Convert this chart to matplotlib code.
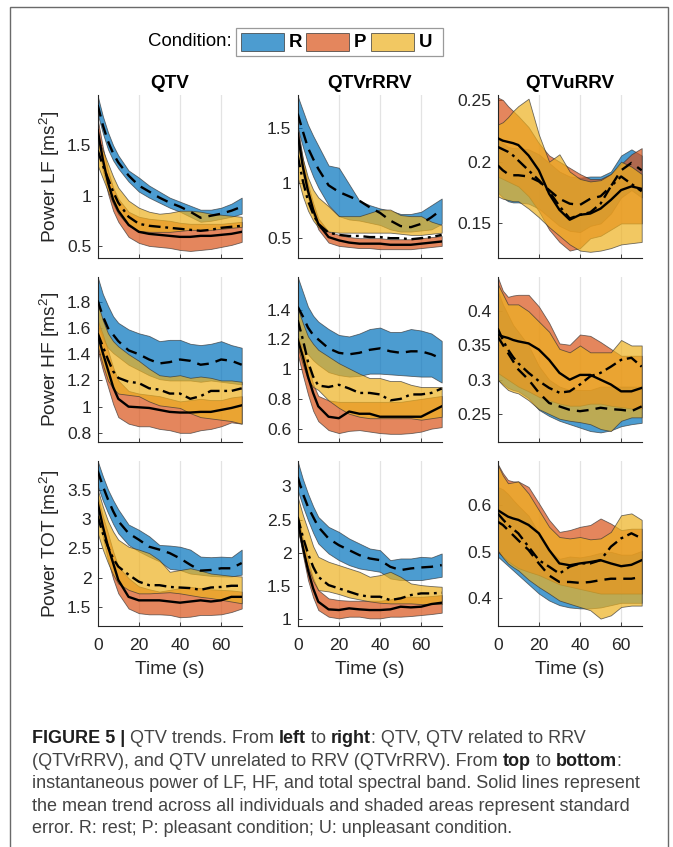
import matplotlib
matplotlib.use('Agg')
import matplotlib.pyplot as plt
from matplotlib.patches import Rectangle
from matplotlib import font_manager
from matplotlib.ticker import FuncFormatter

# ---------------- data ----------------
t = [0, 2.5, 5, 7.5, 10, 15, 20, 25, 30, 35, 40, 45, 50, 55, 60, 65, 70]
conditions = ['R', 'P', 'U']
column_titles = ['QTV', 'QTVrRRV', 'QTVuRRV']
row_labels = ['Power LF [ms$^2$]', 'Power HF [ms$^2$]', 'Power TOT [ms$^2$]']
x_ticks = [0, 20, 40, 60]

# Row 1: LF
lf_qtv_mean = {
    'R': [1.90, 1.70, 1.54, 1.42, 1.33, 1.20, 1.10, 1.04, 0.98, 0.93, 0.89, 0.84, 0.78, 0.80, 0.82, 0.85, 0.89],
    'P': [1.65, 1.36, 1.13, 0.96, 0.85, 0.71, 0.64, 0.62, 0.61, 0.60, 0.59, 0.59, 0.60, 0.60, 0.61, 0.62, 0.64],
    'U': [1.45, 1.30, 1.17, 1.04, 0.93, 0.79, 0.72, 0.70, 0.69, 0.68, 0.67, 0.66, 0.65, 0.66, 0.68, 0.69, 0.70]}
lf_qtv_lo = {
    'R': [1.81, 1.62, 1.46, 1.35, 1.27, 1.14, 1.04, 0.98, 0.93, 0.88, 0.84, 0.79, 0.74, 0.75, 0.77, 0.79, 0.82],
    'P': [1.55, 1.25, 1.02, 0.85, 0.74, 0.59, 0.53, 0.50, 0.49, 0.48, 0.46, 0.45, 0.46, 0.47, 0.49, 0.51, 0.54],
    'U': [1.30, 1.17, 1.04, 0.92, 0.82, 0.70, 0.65, 0.64, 0.64, 0.64, 0.65, 0.66, 0.66, 0.66, 0.67, 0.68, 0.69]}
lf_qtv_hi = {
    'R': [1.99, 1.79, 1.63, 1.50, 1.40, 1.25, 1.18, 1.10, 1.04, 0.98, 0.94, 0.90, 0.86, 0.86, 0.88, 0.92, 0.98],
    'P': [1.76, 1.48, 1.25, 1.08, 0.97, 0.84, 0.79, 0.77, 0.76, 0.75, 0.73, 0.72, 0.72, 0.72, 0.72, 0.73, 0.74],
    'U': [1.58, 1.45, 1.32, 1.19, 1.08, 0.95, 0.88, 0.84, 0.82, 0.83, 0.85, 0.85, 0.84, 0.82, 0.81, 0.80, 0.79]}

lf_qtvr_mean = {
    'R': [1.63, 1.47, 1.32, 1.22, 1.13, 0.98, 0.92, 0.88, 0.84, 0.78, 0.73, 0.66, 0.61, 0.60, 0.63, 0.69, 0.76],
    'P': [1.45, 1.15, 0.93, 0.76, 0.63, 0.51, 0.48, 0.46, 0.45, 0.45, 0.45, 0.44, 0.44, 0.44, 0.45, 0.46, 0.47],
    'U': [1.25, 1.02, 0.84, 0.72, 0.63, 0.55, 0.53, 0.52, 0.52, 0.51, 0.51, 0.50, 0.50, 0.49, 0.50, 0.51, 0.53]}
lf_qtvr_lo = {
    'R': [1.50, 1.33, 1.18, 1.06, 0.96, 0.80, 0.70, 0.67, 0.66, 0.64, 0.62, 0.58, 0.56, 0.56, 0.57, 0.58, 0.63],
    'P': [1.38, 1.08, 0.87, 0.71, 0.58, 0.46, 0.43, 0.42, 0.41, 0.41, 0.40, 0.40, 0.40, 0.40, 0.41, 0.42, 0.43],
    'U': [1.05, 0.88, 0.75, 0.66, 0.60, 0.56, 0.55, 0.55, 0.55, 0.55, 0.55, 0.55, 0.54, 0.53, 0.53, 0.54, 0.55]}
lf_qtvr_hi = {
    'R': [1.79, 1.66, 1.53, 1.43, 1.34, 1.16, 1.14, 0.99, 0.84, 0.80, 0.77, 0.75, 0.72, 0.72, 0.74, 0.80, 0.86],
    'P': [1.52, 1.22, 0.99, 0.82, 0.68, 0.56, 0.53, 0.51, 0.50, 0.50, 0.50, 0.49, 0.49, 0.49, 0.50, 0.51, 0.52],
    'U': [1.45, 1.22, 1.05, 0.94, 0.87, 0.79, 0.70, 0.70, 0.70, 0.73, 0.76, 0.76, 0.71, 0.70, 0.70, 0.65, 0.62]}

lf_qtvu_mean = {
    'R': [0.197, 0.193, 0.190, 0.189, 0.189, 0.188, 0.184, 0.177, 0.170, 0.166, 0.165, 0.170, 0.172, 0.180, 0.193, 0.199, 0.193],
    'P': [0.219, 0.217, 0.216, 0.215, 0.2135, 0.205, 0.193, 0.174, 0.161, 0.153, 0.157, 0.158, 0.162, 0.169, 0.177, 0.180, 0.178],
    'U': [0.212, 0.210, 0.208, 0.205, 0.201, 0.193, 0.185, 0.176, 0.164, 0.154, 0.157, 0.159, 0.166, 0.180, 0.188, 0.182, 0.176]}
lf_qtvu_lo = {
    'R': [0.175, 0.171, 0.168, 0.167, 0.167, 0.166, 0.162, 0.155, 0.148, 0.144, 0.143, 0.148, 0.150, 0.158, 0.171, 0.177, 0.171],
    'P': [0.188, 0.186, 0.184, 0.182, 0.180, 0.172, 0.160, 0.145, 0.135, 0.128, 0.130, 0.138, 0.140, 0.145, 0.150, 0.150, 0.150],
    'U': [0.172, 0.170, 0.169, 0.168, 0.168, 0.162, 0.155, 0.147, 0.140, 0.133, 0.128, 0.127, 0.128, 0.130, 0.133, 0.134, 0.135]}
lf_qtvu_hi = {
    'R': [0.219, 0.215, 0.212, 0.211, 0.211, 0.210, 0.206, 0.199, 0.192, 0.188, 0.187, 0.188, 0.188, 0.192, 0.205, 0.210, 0.205],
    'P': [0.252, 0.250, 0.245, 0.241, 0.237, 0.228, 0.215, 0.205, 0.200, 0.195, 0.190, 0.186, 0.186, 0.190, 0.198, 0.206, 0.211],
    'U': [0.230, 0.232, 0.236, 0.241, 0.245, 0.251, 0.222, 0.200, 0.206, 0.192, 0.186, 0.184, 0.185, 0.190, 0.200, 0.196, 0.190]}

# Row 2: HF
hf_qtv_mean = {
    'R': [1.81, 1.69, 1.60, 1.55, 1.50, 1.43, 1.40, 1.36, 1.33, 1.34, 1.36, 1.35, 1.32, 1.33, 1.36, 1.35, 1.32],
    'P': [1.55, 1.41, 1.28, 1.15, 1.06, 1.00, 0.995, 0.99, 0.975, 0.96, 0.955, 0.955, 0.96, 0.96, 0.975, 0.99, 1.01],
    'U': [1.56, 1.46, 1.36, 1.27, 1.22, 1.19, 1.18, 1.14, 1.13, 1.10, 1.10, 1.06, 1.08, 1.12, 1.12, 1.12, 1.14]}
hf_qtv_lo = {
    'R': [1.62, 1.52, 1.45, 1.41, 1.38, 1.32, 1.28, 1.24, 1.21, 1.20, 1.20, 1.20, 1.19, 1.20, 1.19, 1.18, 1.17],
    'P': [1.43, 1.28, 1.15, 1.02, 0.92, 0.87, 0.85, 0.85, 0.83, 0.82, 0.80, 0.80, 0.82, 0.83, 0.85, 0.88, 0.87],
    'U': [1.46, 1.32, 1.20, 1.14, 1.10, 1.09, 1.08, 1.04, 1.01, 1.00, 0.99, 0.95, 0.92, 0.91, 0.90, 0.89, 0.87]}
hf_qtv_hi = {
    'R': [1.99, 1.86, 1.77, 1.69, 1.64, 1.59, 1.56, 1.54, 1.50, 1.51, 1.51, 1.48, 1.47, 1.48, 1.50, 1.47, 1.45],
    'P': [1.66, 1.55, 1.43, 1.30, 1.20, 1.12, 1.10, 1.09, 1.08, 1.06, 1.04, 1.05, 1.06, 1.05, 1.05, 1.07, 1.08],
    'U': [1.79, 1.66, 1.56, 1.50, 1.46, 1.40, 1.35, 1.29, 1.24, 1.23, 1.24, 1.22, 1.23, 1.22, 1.20, 1.20, 1.19]}

hf_qtvr_mean = {
    'R': [1.42, 1.355, 1.28, 1.23, 1.20, 1.14, 1.11, 1.10, 1.11, 1.13, 1.14, 1.12, 1.11, 1.12, 1.12, 1.10, 1.07],
    'P': [1.20, 1.085, 0.95, 0.84, 0.75, 0.68, 0.67, 0.715, 0.70, 0.70, 0.68, 0.68, 0.68, 0.68, 0.68, 0.715, 0.75],
    'U': [1.33, 1.20, 1.05, 0.95, 0.89, 0.88, 0.895, 0.87, 0.84, 0.84, 0.83, 0.79, 0.80, 0.83, 0.83, 0.84, 0.87]}
hf_qtvr_lo = {
    'R': [1.20, 1.14, 1.10, 1.06, 1.03, 0.98, 0.96, 0.95, 0.955, 0.97, 0.97, 0.965, 0.96, 0.955, 0.95, 0.95, 0.91],
    'P': [1.10, 0.96, 0.83, 0.72, 0.65, 0.59, 0.57, 0.585, 0.59, 0.58, 0.57, 0.565, 0.565, 0.57, 0.58, 0.60, 0.61],
    'U': [1.15, 1.03, 0.93, 0.88, 0.86, 0.79, 0.74, 0.70, 0.68, 0.67, 0.67, 0.67, 0.67, 0.67, 0.66, 0.67, 0.68]}
hf_qtvr_hi = {
    'R': [1.62, 1.52, 1.42, 1.36, 1.32, 1.27, 1.23, 1.22, 1.24, 1.27, 1.28, 1.25, 1.25, 1.27, 1.26, 1.24, 1.19],
    'P': [1.22, 1.12, 1.02, 0.90, 0.82, 0.79, 0.78, 0.78, 0.78, 0.78, 0.78, 0.78, 0.78, 0.79, 0.80, 0.81, 0.82],
    'U': [1.41, 1.31, 1.22, 1.17, 1.13, 1.085, 1.04, 1.005, 0.97, 0.94, 0.94, 0.92, 0.92, 0.895, 0.88, 0.88, 0.88]}

hf_qtvu_mean = {
    'R': [0.363, 0.351, 0.339, 0.327, 0.315, 0.300, 0.281, 0.266, 0.261, 0.256, 0.254, 0.256, 0.259, 0.257, 0.256, 0.254, 0.261],
    'P': [0.366, 0.363, 0.361, 0.358, 0.356, 0.353, 0.344, 0.329, 0.310, 0.300, 0.307, 0.307, 0.300, 0.293, 0.283, 0.283, 0.288],
    'U': [0.375, 0.358, 0.344, 0.333, 0.324, 0.310, 0.298, 0.288, 0.281, 0.283, 0.293, 0.305, 0.310, 0.319, 0.329, 0.332, 0.319]}
hf_qtvu_lo = {
    'R': [0.300, 0.294, 0.288, 0.285, 0.283, 0.273, 0.256, 0.247, 0.240, 0.235, 0.230, 0.225, 0.223, 0.226, 0.232, 0.235, 0.237],
    'P': [0.310, 0.305, 0.300, 0.295, 0.290, 0.283, 0.275, 0.270, 0.265, 0.262, 0.262, 0.265, 0.265, 0.262, 0.260, 0.258, 0.258],
    'U': [0.300, 0.292, 0.285, 0.282, 0.280, 0.270, 0.257, 0.250, 0.243, 0.240, 0.238, 0.235, 0.228, 0.225, 0.240, 0.245, 0.245]}
hf_qtvu_hi = {
    'R': [0.430, 0.410, 0.395, 0.380, 0.370, 0.350, 0.320, 0.300, 0.290, 0.285, 0.285, 0.285, 0.290, 0.290, 0.290, 0.290, 0.290],
    'P': [0.450, 0.430, 0.421, 0.423, 0.424, 0.424, 0.407, 0.383, 0.353, 0.351, 0.366, 0.364, 0.355, 0.345, 0.335, 0.335, 0.335],
    'U': [0.440, 0.425, 0.410, 0.410, 0.410, 0.400, 0.385, 0.370, 0.345, 0.340, 0.350, 0.340, 0.340, 0.340, 0.358, 0.350, 0.350]}

# Row 3: TOT
tot_qtv_mean = {
    'R': [3.83, 3.57, 3.34, 3.14, 2.97, 2.76, 2.65, 2.53, 2.48, 2.42, 2.33, 2.22, 2.12, 2.13, 2.16, 2.16, 2.25],
    'P': [3.28, 2.88, 2.53, 2.25, 1.96, 1.67, 1.61, 1.61, 1.61, 1.59, 1.57, 1.59, 1.61, 1.59, 1.61, 1.67, 1.67],
    'U': [3.05, 2.76, 2.53, 2.33, 2.19, 2.05, 1.93, 1.87, 1.87, 1.84, 1.83, 1.82, 1.79, 1.83, 1.84, 1.86, 1.86]}
tot_qtv_lo = {
    'R': [3.57, 3.32, 3.11, 2.92, 2.76, 2.56, 2.45, 2.36, 2.28, 2.15, 2.13, 2.07, 2.05, 2.03, 2.02, 2.02, 2.05],
    'P': [3.17, 2.70, 2.30, 1.98, 1.73, 1.47, 1.39, 1.37, 1.37, 1.36, 1.32, 1.33, 1.36, 1.36, 1.37, 1.41, 1.47],
    'U': [2.76, 2.48, 2.25, 2.05, 1.90, 1.79, 1.73, 1.73, 1.74, 1.75, 1.73, 1.70, 1.67, 1.65, 1.62, 1.59, 1.56]}
tot_qtv_hi = {
    'R': [4.00, 3.74, 3.51, 3.33, 3.17, 2.91, 2.82, 2.71, 2.56, 2.55, 2.53, 2.48, 2.36, 2.35, 2.36, 2.35, 2.48],
    'P': [3.40, 3.05, 2.76, 2.45, 2.19, 1.99, 1.85, 1.80, 1.76, 1.79, 1.82, 1.84, 1.82, 1.80, 1.79, 1.78, 1.76],
    'U': [3.51, 3.22, 2.97, 2.79, 2.65, 2.53, 2.48, 2.42, 2.30, 2.10, 2.13, 2.16, 2.12, 2.07, 2.05, 2.03, 2.02]}

tot_qtvr_mean = {
    'R': [3.14, 2.89, 2.69, 2.54, 2.39, 2.215, 2.115, 2.04, 1.965, 1.915, 1.89, 1.79, 1.74, 1.765, 1.78, 1.79, 1.815],
    'P': [2.49, 2.09, 1.74, 1.465, 1.265, 1.15, 1.14, 1.165, 1.15, 1.14, 1.14, 1.15, 1.19, 1.18, 1.19, 1.23, 1.25],
    'U': [2.54, 2.24, 1.99, 1.79, 1.64, 1.515, 1.465, 1.415, 1.365, 1.34, 1.34, 1.29, 1.315, 1.365, 1.39, 1.39, 1.40]}
tot_qtvr_lo = {
    'R': [2.94, 2.70, 2.49, 2.30, 2.14, 1.99, 1.89, 1.815, 1.765, 1.74, 1.715, 1.615, 1.59, 1.59, 1.59, 1.615, 1.64],
    'P': [2.39, 1.97, 1.59, 1.33, 1.14, 1.04, 1.015, 1.04, 1.04, 1.015, 1.015, 1.04, 1.04, 1.05, 1.065, 1.08, 1.10],
    'U': [2.34, 2.04, 1.79, 1.58, 1.44, 1.42, 1.38, 1.33, 1.30, 1.27, 1.25, 1.24, 1.24, 1.24, 1.23, 1.23, 1.23]}
tot_qtvr_hi = {
    'R': [3.375, 3.11, 2.89, 2.70, 2.54, 2.39, 2.315, 2.215, 2.14, 2.065, 2.04, 1.89, 1.915, 1.915, 1.94, 1.93, 1.99],
    'P': [2.565, 2.21, 1.89, 1.62, 1.44, 1.315, 1.29, 1.28, 1.28, 1.28, 1.28, 1.30, 1.34, 1.34, 1.34, 1.35, 1.365],
    'U': [2.84, 2.57, 2.34, 2.10, 1.94, 1.865, 1.815, 1.765, 1.715, 1.64, 1.665, 1.715, 1.64, 1.54, 1.515, 1.50, 1.49]}

tot_qtvu_mean = {
    'R': [0.565, 0.558, 0.547, 0.536, 0.525, 0.504, 0.475, 0.449, 0.435, 0.435, 0.433, 0.435, 0.439, 0.442, 0.442, 0.442, 0.446],
    'P': [0.590, 0.583, 0.576, 0.572, 0.569, 0.558, 0.540, 0.504, 0.475, 0.471, 0.475, 0.478, 0.482, 0.475, 0.469, 0.472, 0.482],
    'U': [0.583, 0.570, 0.558, 0.549, 0.540, 0.511, 0.482, 0.468, 0.453, 0.468, 0.475, 0.475, 0.482, 0.511, 0.529, 0.540, 0.529]}
tot_qtvu_lo = {
    'R': [0.490, 0.480, 0.470, 0.460, 0.450, 0.430, 0.410, 0.395, 0.385, 0.380, 0.378, 0.378, 0.380, 0.385, 0.390, 0.390, 0.390],
    'P': [0.500, 0.490, 0.480, 0.472, 0.465, 0.457, 0.450, 0.440, 0.430, 0.425, 0.420, 0.415, 0.410, 0.410, 0.410, 0.410, 0.410],
    'U': [0.503, 0.488, 0.475, 0.467, 0.460, 0.440, 0.424, 0.410, 0.395, 0.388, 0.381, 0.374, 0.356, 0.363, 0.381, 0.384, 0.384]}
tot_qtvu_hi = {
    'R': [0.640, 0.635, 0.625, 0.612, 0.600, 0.578, 0.540, 0.503, 0.485, 0.490, 0.488, 0.492, 0.498, 0.500, 0.494, 0.494, 0.502],
    'P': [0.690, 0.670, 0.655, 0.652, 0.652, 0.640, 0.605, 0.569, 0.543, 0.547, 0.554, 0.558, 0.572, 0.561, 0.547, 0.550, 0.550],
    'U': [0.688, 0.665, 0.648, 0.650, 0.652, 0.626, 0.590, 0.554, 0.532, 0.529, 0.532, 0.527, 0.529, 0.543, 0.579, 0.583, 0.569]}

# axis tick values per panel
yticks_grid = [
    [[0.5, 1, 1.5], [0.5, 1, 1.5], [0.15, 0.2, 0.25]],
    [[0.8, 1, 1.2, 1.4, 1.6, 1.8], [0.6, 0.8, 1, 1.2, 1.4], [0.25, 0.3, 0.35, 0.4]],
    [[1.5, 2, 2.5, 3, 3.5], [1, 1.5, 2, 2.5, 3], [0.4, 0.5, 0.6]],
]
ylims_grid = [
    [(0.38, 2.0), (0.32, 1.80), (0.122, 0.254)],
    [(0.73, 1.99), (0.51, 1.62), (0.209, 0.45)],
    [(1.17, 4.0), (0.90, 3.38), (0.34, 0.696)],
]
panels = [
    [(lf_qtv_mean, lf_qtv_lo, lf_qtv_hi), (lf_qtvr_mean, lf_qtvr_lo, lf_qtvr_hi), (lf_qtvu_mean, lf_qtvu_lo, lf_qtvu_hi)],
    [(hf_qtv_mean, hf_qtv_lo, hf_qtv_hi), (hf_qtvr_mean, hf_qtvr_lo, hf_qtvr_hi), (hf_qtvu_mean, hf_qtvu_lo, hf_qtvu_hi)],
    [(tot_qtv_mean, tot_qtv_lo, tot_qtv_hi), (tot_qtvr_mean, tot_qtvr_lo, tot_qtvr_hi), (tot_qtvu_mean, tot_qtvu_lo, tot_qtvu_hi)],
]

caption_lines = [
    [("FIGURE 5 |", 'bold'), (" QTV trends. From ", 'normal'), ("left", 'bold'), (" to ", 'normal'),
     ("right", 'bold'), (": QTV, QTV related to RRV", 'normal')],
    [("(QTVrRRV), and QTV unrelated to RRV (QTVrRRV). From ", 'normal'), ("top", 'bold'),
     (" to ", 'normal'), ("bottom", 'bold'), (":", 'normal')],
    [("instantaneous power of LF, HF, and total spectral band. Solid lines represent", 'normal')],
    [("the mean trend across all individuals and shaded areas represent standard", 'normal')],
    [("error. R: rest; P: pleasant condition; U: unpleasant condition.", 'normal')],
]

# ---------------- style ----------------
colors = {'R': (0.0, 0.447, 0.741), 'P': (0.850, 0.325, 0.098), 'U': (0.929, 0.694, 0.125)}
line_styles = {'R': (0, (5, 3)), 'P': '-', 'U': (0, (5, 2, 1.2, 2))}
ALPHA = 0.7

plt.rcParams['font.family'] = ['Liberation Sans', 'DejaVu Sans']
plt.rcParams['mathtext.fontset'] = 'custom'
plt.rcParams['mathtext.rm'] = 'Liberation Sans'
plt.rcParams['mathtext.it'] = 'Liberation Sans:italic'
plt.rcParams['mathtext.bf'] = 'Liberation Sans:bold'

W, H = 673, 847
fig = plt.figure(figsize=(W / 100, H / 100), dpi=100)
fig.patch.set_facecolor('white')

axis_col = '#262626'
col_x = [97.7, 297.7, 497.7]
col_w = 144.0
row_y = [(95, 258), (277, 442), (461, 626)]

def fmt(v, pos):
    return ('%g' % v)

for i in range(3):
    for j in range(3):
        top, bot = row_y[i]
        ax = fig.add_axes([col_x[j] / W, 1 - bot / H, col_w / W, (bot - top) / H])
        mean_d, lo_d, hi_d = panels[i][j]
        for c in conditions:
            ax.fill_between(t, lo_d[c], hi_d[c], facecolor=colors[c], alpha=ALPHA,
                            edgecolor=(0.2, 0.2, 0.2), linewidth=0.6, zorder=2)
        for c in conditions:
            ax.plot(t, mean_d[c], color='black', linestyle=line_styles[c], linewidth=1.7, zorder=3)
        ax.set_xlim(0, 70)
        ax.set_ylim(*ylims_grid[i][j])
        ax.set_xticks(x_ticks)
        ax.set_yticks(yticks_grid[i][j])
        ax.yaxis.set_major_formatter(FuncFormatter(fmt))
        ax.grid(True, axis='x', color='#e3e3e3', linewidth=0.9, zorder=0)
        ax.set_axisbelow(True)
        for s in ['top', 'right']:
            ax.spines[s].set_visible(False)
        for s in ['left', 'bottom']:
            ax.spines[s].set_color(axis_col)
            ax.spines[s].set_linewidth(0.8)
        ax.tick_params(direction='in', length=3, width=0.6, colors=axis_col, labelsize=12.6)
        ax.tick_params(axis='y', pad=4.5)
        ax.tick_params(axis='x', pad=8.5)
        if i < 2:
            ax.tick_params(labelbottom=False)
        else:
            ax.set_xlabel('Time (s)', fontsize=13.8, color=axis_col, labelpad=6)
        if j == 0:
            ax.set_ylabel(row_labels[i], fontsize=13.8, color=axis_col, labelpad=4)
        if i == 0:
            ax.set_title(column_titles[j], fontsize=13.6, fontweight='bold', color='black', pad=5)

# ---------------- legend ----------------
def px(x, y):
    return (x / W, 1 - y / H)

fig.text(*px(232, 42), 'Condition:', fontsize=13.4, ha='right', va='center', color='black')
lx0, ly0, lx1, ly1 = 236, 28, 443, 56
fig.add_artist(Rectangle(px(lx0, ly1), (lx1 - lx0) / W, (ly1 - ly0) / H, transform=fig.transFigure,
                         facecolor='white', edgecolor='#9a9a9a', linewidth=0.9))
patch_x = [241, 306, 371]
for c, x0 in zip(conditions, patch_x):
    fig.add_artist(Rectangle(px(x0, 51), 43 / W, 18 / H, transform=fig.transFigure,
                             facecolor=colors[c], alpha=ALPHA, edgecolor=(0.2, 0.2, 0.2), linewidth=0.7))
    fig.text(*px(x0 + 48, 42.5), c, fontsize=13.4, fontweight='bold', ha='left', va='center', color='black')

# ---------------- border ----------------
fig.add_artist(Rectangle((10 / W, -0.05), 658 / W, 1.05 - 7 / H, transform=fig.transFigure,
                         facecolor='none', edgecolor='#6a6a6a', linewidth=1.0))

# ---------------- caption ----------------
names = {f.name for f in font_manager.fontManager.ttflist}
cap_family = 'Liberation Sans Narrow' if 'Liberation Sans Narrow' in names else 'Liberation Sans'
renderer = fig.canvas.get_renderer()

probe = fig.text(0, 0, caption_lines[2][0][0], fontsize=10, family=cap_family)
w10 = probe.get_window_extent(renderer=renderer).width
probe.remove()
cap_size = 10 * 608.0 / w10

cap_x0 = 32
cap_y = [743, 765.5, 788, 810.5, 833]
for line, yb in zip(caption_lines, cap_y):
    x = cap_x0
    for s, wgt in line:
        txt = fig.text(*px(x, yb), s, fontsize=cap_size, fontweight=wgt, family=cap_family,
                       ha='left', va='baseline', color='#1e1e1e' if wgt == 'bold' else '#444444')
        x += txt.get_window_extent(renderer=renderer).width

fig.savefig('out.png', dpi=100)
